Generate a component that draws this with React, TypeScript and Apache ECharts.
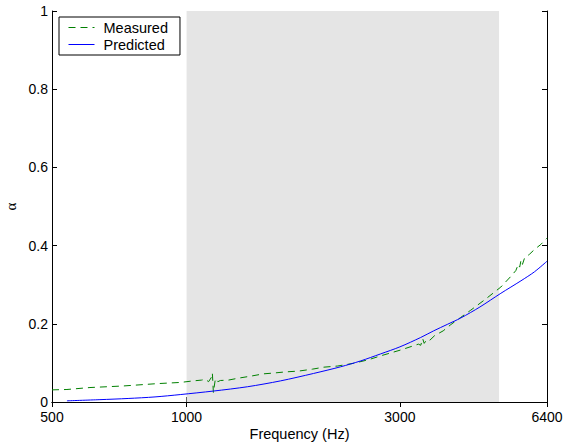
import React, { useEffect, useRef } from "react";
import * as echarts from "echarts";

// Measured absorption coefficient (frequency in Hz, alpha)
const measuredFreq = [
  500, 540, 608, 722, 860, 968, 1035, 1080, 1101, 1120, 1135, 1142, 1148, 1160,
  1175, 1190, 1240, 1306, 1390, 1486, 1564, 1664, 1779, 1912, 2025, 2177, 2364,
  2550, 2716, 3013, 3221, 3300, 3340, 3374, 3400, 3450, 3500, 3590, 3750, 3900,
  4100, 4323, 4650, 5046, 5300, 5450, 5520, 5560, 5600, 5640, 5700, 5850, 6000,
  6200, 6400,
];
const measuredAlpha = [
  0.031, 0.032, 0.037, 0.041, 0.047, 0.050, 0.054, 0.056, 0.058, 0.052, 0.062,
  0.074, 0.024, 0.060, 0.052, 0.055, 0.056, 0.061, 0.066, 0.072, 0.074, 0.077,
  0.079, 0.084, 0.089, 0.092, 0.099, 0.108, 0.118, 0.133, 0.144, 0.148, 0.145,
  0.162, 0.150, 0.160, 0.158, 0.170, 0.182, 0.198, 0.216, 0.235, 0.262, 0.294,
  0.320, 0.336, 0.352, 0.345, 0.363, 0.352, 0.368, 0.378, 0.390, 0.403, 0.419,
];

// Predicted absorption coefficient
const predictedFreq = [
  540, 640, 740, 850, 968, 1148, 1368, 1622, 1923, 2210, 2450, 2716, 3000, 3339,
  3570, 3838, 4107, 4530, 5046, 5597, 6000, 6400,
];
const predictedAlpha = [
  0.003, 0.006, 0.009, 0.013, 0.019, 0.028, 0.039, 0.054, 0.073, 0.090, 0.105,
  0.123, 0.141, 0.165, 0.182, 0.199, 0.215, 0.243, 0.278, 0.310, 0.333, 0.360,
];

// Shaded frequency band
const bandStart = 1000;
const bandEnd = 5000;

// Tick values
const xTicks = [500, 1000, 3000, 6400];
const xMin = 500;
const xMax = 6400;
const yMin = 0;
const yMax = 1;
const yStep = 0.2;

const FONT = "Liberation Sans, Arial, Helvetica, sans-serif";

export default function App() {
  const ref = useRef<HTMLDivElement>(null);

  useEffect(() => {
    if (!ref.current) return;
    const chart = echarts.init(ref.current, undefined, { renderer: "svg" });

    const measured = measuredFreq.map((f, i) => [f, measuredAlpha[i]]);
    const predicted = predictedFreq.map((f, i) => [f, predictedAlpha[i]]);

    const tickStyle = {
      show: true,
      inside: true,
      length: 5,
      customValues: xTicks,
      lineStyle: { color: "#000", width: 1 },
    };

    chart.setOption({
      animation: false,
      backgroundColor: "#fff",
      textStyle: { fontFamily: FONT },
      grid: {
        left: 52,
        right: 18,
        top: 11,
        bottom: 40,
        containLabel: false,
        outerBoundsMode: "none",
      },
      legend: {
        orient: "vertical",
        left: 59,
        top: 17,
        padding: [3, 12, 3, 9],
        itemGap: 2,
        itemWidth: 26,
        itemHeight: 14,
        backgroundColor: "#fff",
        borderColor: "#000",
        borderWidth: 1,
        borderRadius: 0,
        itemStyle: { opacity: 0, borderWidth: 0 },
        lineStyle: { width: 1 },
        textStyle: {
          fontFamily: FONT,
          fontSize: 14.5,
          color: "#000",
          padding: [0, 0, 0, 4],
        },
        data: ["Measured", "Predicted"],
      },
      xAxis: [
        {
          type: "log",
          logBase: 10,
          min: xMin,
          max: xMax,
          name: "Frequency (Hz)",
          nameLocation: "middle",
          nameGap: 24,
          nameMoveOverlap: false,
          nameTextStyle: { fontFamily: FONT, fontSize: 14.5, color: "#000" },
          axisLine: { show: true, lineStyle: { color: "#000", width: 1 } },
          axisTick: tickStyle,
          axisLabel: {
            customValues: xTicks,
            formatter: (v: number) => String(Math.round(v)),
            color: "#000",
            fontFamily: FONT,
            fontSize: 14,
            margin: 8,
          },
          splitLine: { show: false },
          minorTick: { show: false },
        },
        {
          type: "log",
          logBase: 10,
          min: xMin,
          max: xMax,
          position: "top",
          axisLine: { show: true, lineStyle: { color: "#000", width: 1 } },
          axisTick: tickStyle,
          axisLabel: { show: false, customValues: xTicks },
          splitLine: { show: false },
        },
      ],
      yAxis: [
        {
          type: "value",
          min: yMin,
          max: yMax,
          interval: yStep,
          name: "α",
          nameLocation: "middle",
          nameRotate: 90,
          nameGap: 34,
          nameMoveOverlap: false,
          nameTextStyle: {
            fontFamily: "Liberation Serif, serif",
            fontSize: 15,
            color: "#000",
          },
          axisLine: { show: true, lineStyle: { color: "#000", width: 1 } },
          axisTick: {
            show: true,
            inside: true,
            length: 5,
            lineStyle: { color: "#000" },
          },
          axisLabel: {
            color: "#000",
            fontFamily: FONT,
            fontSize: 14,
            margin: 4,
          },
          splitLine: { show: false },
        },
        {
          type: "value",
          min: yMin,
          max: yMax,
          interval: yStep,
          position: "right",
          axisLine: { show: true, lineStyle: { color: "#000", width: 1 } },
          axisTick: {
            show: true,
            inside: true,
            length: 5,
            lineStyle: { color: "#000" },
          },
          axisLabel: { show: false },
          splitLine: { show: false },
        },
      ],
      series: [
        {
          name: "Measured",
          type: "line",
          data: measured,
          showSymbol: false,
          symbol: "none",
          color: "#008000",
          lineStyle: { color: "#008000", width: 1, type: [7, 5] },
          markArea: {
            silent: true,
            itemStyle: { color: "#e5e5e5" },
            data: [[{ xAxis: bandStart, yAxis: yMin }, { xAxis: bandEnd, yAxis: yMax }]],
          },
          z: 3,
        },
        {
          name: "Predicted",
          type: "line",
          data: predicted,
          showSymbol: false,
          symbol: "none",
          smooth: 0.3,
          color: "#0000ff",
          lineStyle: { color: "#0000ff", width: 1 },
          z: 3,
        },
      ],
    });

    return () => chart.dispose();
  }, []);

  return (
    <div
      ref={ref}
      style={{ position: "fixed", left: 0, top: 0, width: 565, height: 442 }}
    />
  );
}
